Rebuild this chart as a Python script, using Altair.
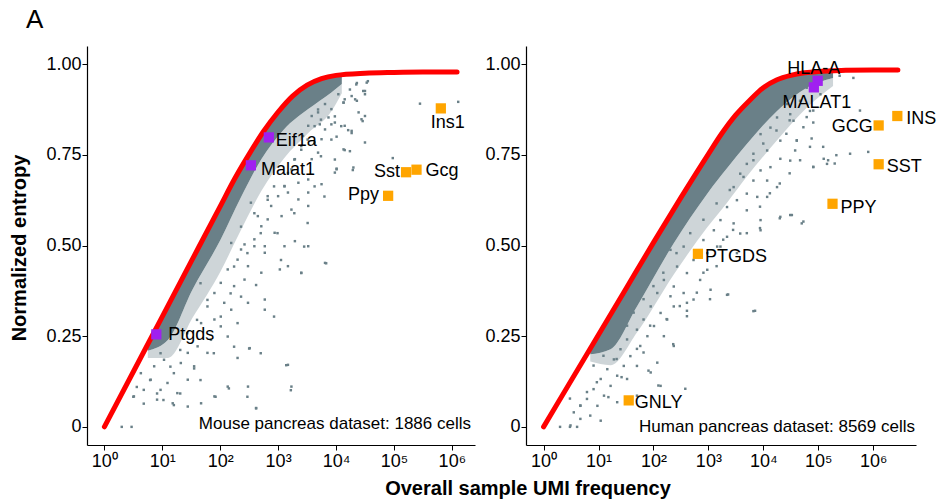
import altair as alt
import pandas as pd

FONT = "Liberation Sans"
GRAY = "#6a8088"
RED = "#ff0000"
ORANGE = "#ffa500"
PURPLE = "#a020f0"

# ---------------- Mouse (left) ----------------
m_curve_lx = [0, 0.5, 1, 1.5, 2, 2.25, 2.5, 2.75, 3.0, 3.25, 3.5, 3.75, 4.0, 4.5, 5.0, 5.5, 6.09]
m_curve_y = [0, 0.152, 0.304, 0.456, 0.608, 0.684, 0.752, 0.815, 0.868, 0.912, 0.942, 0.960, 0.969, 0.975, 0.977, 0.978, 0.978]

# dense (solid) part of the gene cloud: upper edge follows the curve
m_band_lx = [0.75, 1.1, 1.52, 2.01, 2.35, 2.71, 3.1, 3.52, 3.92, 4.1]
m_band_hi = [0.232, 0.338, 0.466, 0.615, 0.716, 0.810, 0.890, 0.947, 0.968, 0.972]
m_band_lo = [0.21, 0.24, 0.378, 0.517, 0.63, 0.738, 0.82, 0.876, 0.922, 0.945]
m_halo_lo = [0.19, 0.19, 0.30, 0.43, 0.54, 0.65, 0.74, 0.81, 0.87, 0.92]

# scattered genes (outer cloud)
m_pts_lx = [5.45, 6.11, 4.98, 4.01, 4.29, 4.15, 4.21, 4.01, 4.46, 4.50, 3.92, 4.36, 4.53, 4.47, 4.50, 4.33,
            4.15, 4.13, 4.55, 4.35, 4.24, 3.83, 3.45, 3.40, 3.14, 3.22, 2.62, 2.47, 2.50, 2.15, 1.92, 1.66,
            1.20, 0.30, 0.47, 0.50, 0.68, 0.56, 0.79, 0.91, 1.02, 1.31, 1.55, 1.89, 2.24, 2.70, 2.93, 2.62,
            2.36, 3.05, 2.99, 3.28, 3.51, 3.80, 3.98, 3.63, 3.74, 4.27, 4.09, 3.92, 3.98, 1.66, 1.78, 2.01,
            2.18, 2.24, 2.47, 2.70, 2.36, 2.59, 2.82, 2.93, 3.17, 3.11, 3.28, 3.40, 3.51, 3.63, 3.74, 3.69,
            1.43, 1.60, 1.31, 1.14, 0.97, 1.08]
m_pts_y = [0.891, 0.896, 0.741, 0.712, 0.708, 0.763, 0.818, 0.800, 0.843, 0.857, 0.834, 0.948, 0.949, 0.926, 0.917, 0.903,
           0.903, 0.894, 0.953, 0.944, 0.930, 0.451, 0.497, 0.424, 0.170, 0.101, 0.051, 0.083, 0.216, 0.106, 0.083, 0.129,
           0.060, 0.0, 0.0, 0.083, 0.064, 0.110, 0.129, 0.092, 0.074, 0.092, 0.161, 0.203, 0.221, 0.203, 0.304, 0.391,
           0.359, 0.460, 0.534, 0.589, 0.562, 0.635, 0.737, 0.663, 0.746, 0.810, 0.829, 0.792, 0.856, 0.396, 0.350, 0.304,
           0.368, 0.442, 0.479, 0.534, 0.552, 0.589, 0.626, 0.663, 0.700, 0.663, 0.737, 0.764, 0.792, 0.829, 0.847, 0.875,
           0.258, 0.295, 0.212, 0.166, 0.203, 0.258]
m_pts2_lx = [4.50, 4.27, 4.36, 4.13, 4.04, 3.92, 3.81, 3.69, 3.58, 3.52, 3.81, 3.98, 4.15, 4.27, 4.44, 4.24,
             4.50, 4.30, 4.01, 3.69, 3.58, 3.75, 3.40, 3.29, 3.23, 3.35, 3.52, 3.11, 3.00, 2.88, 3.06, 3.23,
             3.35, 3.52, 2.82, 2.71, 2.94, 2.59, 2.42, 3.29, 3.11, 2.77, 2.65, 2.53, 2.82, 3.17, 3.52, 3.75,
             3.98, 4.13, 3.72, 3.43, 3.63, 3.87, 4.39]
m_pts2_y = [0.926, 0.912, 0.899, 0.894, 0.917, 0.876, 0.890, 0.867, 0.857, 0.830, 0.820, 0.839, 0.830, 0.816, 0.848, 0.760,
            0.784, 0.715, 0.710, 0.756, 0.738, 0.793, 0.774, 0.738, 0.710, 0.673, 0.682, 0.664, 0.636, 0.609, 0.581, 0.599,
            0.627, 0.609, 0.572, 0.553, 0.535, 0.517, 0.503, 0.512, 0.498, 0.498, 0.581, 0.618, 0.636, 0.646, 0.646, 0.669,
            0.701, 0.765, 0.834, 0.802, 0.784, 0.853, 0.867]
m_pts3_lx = [2.19, 2.36, 2.59, 2.77, 2.30, 2.13, 2.48, 2.71, 2.42, 2.24, 2.01, 1.90, 2.07, 1.78, 2.19, 2.48,
             2.77, 1.90, 1.67, 2.01, 2.30, 2.13, 1.84, 1.61, 1.78, 1.44, 1.32, 1.55, 1.20, 1.44, 1.09, 0.97,
             1.26, 0.91, 0.80, 0.86, 1.03, 0.63, 0.68, 0.51, 2.51, 2.30, 2.13, 1.90, 1.67, 1.44, 1.18, 2.77,
             3.17, 3.40, 3.81, 3.17, 3.03, 3.52, 3.23, 2.62, 2.48]
m_pts3_y = [0.507, 0.489, 0.498, 0.480, 0.461, 0.434, 0.443, 0.425, 0.406, 0.388, 0.397, 0.369, 0.342, 0.332, 0.323, 0.342,
            0.323, 0.296, 0.286, 0.277, 0.286, 0.249, 0.240, 0.222, 0.204, 0.204, 0.176, 0.167, 0.148, 0.130, 0.121, 0.102,
            0.093, 0.075, 0.130, 0.167, 0.185, 0.148, 0.102, 0.084, 0.217, 0.190, 0.111, 0.084, 0.065, 0.056, 0.065, 0.351,
            0.171, 0.425, 0.452, 0.443, 0.434, 0.498, 0.111, 0.052, 0.111]

m_genes = ["Ptgds", "Malat1", "Eif1a", "Ins1", "Sst", "Gcg", "Ppy"]
m_gene_lx = [0.897, 2.53, 2.84, 5.81, 5.21, 5.39, 4.90]
m_gene_y = [0.255, 0.721, 0.798, 0.878, 0.702, 0.709, 0.637]
m_gene_kind = ["housekeeping", "housekeeping", "housekeeping", "marker", "marker", "marker", "marker"]

# ---------------- Human (right) ----------------
h_curve_lx = [0, 0.5, 1, 1.5, 2, 2.5, 3.0, 3.25, 3.5, 3.75, 4.0, 4.25, 4.5, 4.75, 5.0, 5.5, 6.0, 6.45]
h_curve_y = [0, 0.127, 0.254, 0.381, 0.508, 0.632, 0.752, 0.810, 0.860, 0.900, 0.935, 0.957, 0.969, 0.976, 0.980, 0.983, 0.984, 0.984]

h_band_lx = [0.85, 1.22, 1.70, 2.37, 2.98, 3.35, 3.70, 4.25, 4.79, 5.27]
h_band_hi = [0.220, 0.314, 0.436, 0.604, 0.752, 0.834, 0.896, 0.960, 0.979, 0.982]
h_band_lo = [0.20, 0.214, 0.332, 0.506, 0.643, 0.715, 0.78, 0.871, 0.935, 0.962]
h_halo_lo = [0.18, 0.17, 0.26, 0.42, 0.55, 0.62, 0.69, 0.79, 0.88, 0.94]

h_pts_lx = [5.64, 5.39, 5.76, 4.91, 4.88, 5.09, 5.18, 5.30, 5.58, 5.91, 5.33, 4.91, 4.52, 4.73, 4.30, 3.94,
            3.85, 3.36, 3.03, 2.61, 2.36, 1.91, 2.58, 2.09, 1.42, 1.18, 0.48, 0.30, 0.48, 0.61, 0.79, 0.67,
            0.97, 1.33, 1.70, 1.94, 2.24, 2.48, 2.79, 2.91, 3.15, 3.52, 3.70, 3.45, 3.27, 3.94, 4.12, 4.30,
            4.48, 4.67, 4.85, 4.61, 4.42, 4.73, 4.79, 4.48, 4.24, 4.00, 3.82, 3.64, 3.39, 3.15, 2.91, 2.67,
            2.42, 2.18, 2.00, 1.82, 1.64, 1.52, 1.27, 1.09, 0.91]
h_pts_y = [0.962, 0.968, 0.872, 0.872, 0.795, 0.772, 0.735, 0.726, 0.753, 0.758, 0.749, 0.717, 0.584, 0.566, 0.575, 0.548,
           0.320, 0.365, 0.352, 0.320, 0.228, 0.155, 0.105, 0.114, 0.137, 0.082, 0.078, 0.0, 0.0, 0.0, 0.096, 0.059,
           0.123, 0.187, 0.215, 0.279, 0.297, 0.333, 0.370, 0.425, 0.443, 0.479, 0.534, 0.543, 0.516, 0.607, 0.644, 0.671,
           0.699, 0.735, 0.772, 0.790, 0.808, 0.826, 0.854, 0.845, 0.817, 0.781, 0.735, 0.689, 0.653, 0.616, 0.571, 0.534,
           0.479, 0.425, 0.388, 0.352, 0.315, 0.279, 0.233, 0.196, 0.169]
h_pts2_lx = [4.79, 5.04, 4.67, 4.43, 4.25, 4.55, 4.91, 4.13, 3.95, 4.31, 4.61, 4.07, 4.31, 4.49, 3.82, 3.70,
             3.95, 4.13, 3.58, 3.82, 4.07, 4.25, 3.46, 3.70, 3.89, 3.52, 3.34, 3.70, 4.07, 3.22, 3.46, 3.10,
             3.34, 3.58, 2.91, 3.16, 3.95, 3.95, 4.31, 4.49, 4.70, 5.10, 5.16, 4.91, 4.58, 4.49, 4.85]
h_pts2_y = [0.935, 0.917, 0.899, 0.890, 0.853, 0.844, 0.839, 0.825, 0.807, 0.789, 0.789, 0.762, 0.739, 0.734, 0.753, 0.725,
            0.707, 0.716, 0.698, 0.679, 0.679, 0.661, 0.661, 0.643, 0.634, 0.625, 0.606, 0.597, 0.634, 0.570, 0.561, 0.542,
            0.524, 0.533, 0.515, 0.497, 0.542, 0.570, 0.579, 0.584, 0.561, 0.739, 0.725, 0.716, 0.762, 0.862, 0.871]
h_pts3_lx = [2.31, 2.55, 2.73, 2.98, 3.22, 2.43, 2.61, 2.85, 2.98, 2.19, 2.37, 2.07, 2.31, 2.55, 2.73, 3.04,
             3.34, 1.95, 2.13, 2.37, 2.61, 1.82, 2.01, 2.25, 1.70, 1.89, 2.19, 1.52, 1.76, 1.40, 1.58, 1.82,
             1.28, 1.46, 1.70, 1.16, 1.34, 1.04, 1.22, 0.91, 1.10, 0.79, 0.98, 0.67, 0.55, 0.85, 1.52, 1.95,
             2.13, 2.37, 2.61, 3.82, 2.07, 1.70, 1.34, 1.04, 0.67, 0.49]
h_pts3_y = [0.488, 0.497, 0.460, 0.479, 0.497, 0.442, 0.424, 0.405, 0.433, 0.405, 0.387, 0.369, 0.360, 0.369, 0.351, 0.378,
            0.364, 0.332, 0.314, 0.332, 0.342, 0.296, 0.278, 0.296, 0.268, 0.250, 0.250, 0.241, 0.223, 0.214, 0.195, 0.205,
            0.186, 0.168, 0.168, 0.159, 0.141, 0.132, 0.113, 0.104, 0.086, 0.077, 0.058, 0.058, 0.040, 0.031, 0.132, 0.150,
            0.113, 0.223, 0.305, 0.319, 0.177, 0.086, 0.068, 0.017, 0.022, 0.004]

h_genes = ["HLA-A", "MALAT1", "INS", "GCG", "SST", "PPY", "PTGDS", "GNLY"]
h_gene_lx = [4.99, 4.92, 6.44, 6.10, 6.10, 5.26, 2.81, 1.55]
h_gene_y = [0.954, 0.936, 0.857, 0.831, 0.724, 0.615, 0.477, 0.073]
h_gene_kind = ["housekeeping", "housekeeping", "marker", "marker", "marker", "marker", "marker", "marker"]

x_ticks = [0, 1, 2, 3, 4, 5, 6]
y_ticks = [0, 0.25, 0.5, 0.75, 1.0]

# label placement (align, dx, dy) - styling only
LABEL_STYLE = {
    "Ptgds": ("left", 12, 1), "Malat1": ("left", 10, 5), "Eif1a": ("left", 7, 4),
    "Ins1": ("center", 7, 15), "Sst": ("right", -6, 0), "Gcg": ("left", 9, 1), "Ppy": ("right", -9, -1),
    "HLA-A": ("center", -4, -12), "MALAT1": ("center", 3, 16), "INS": ("left", 9, 3), "GCG": ("right", -6, 2),
    "SST": ("left", 8, 3), "PPY": ("left", 8, 4), "PTGDS": ("left", 7, 3), "GNLY": ("left", 6, 3),
}

W_L, W_R, H = 388, 390, 399


def frame_rule(xpos):
    # invisible white rule fixing the outer bounds of the figure
    return alt.Chart(pd.DataFrame({"k": [0]})).mark_rule(color="white", strokeWidth=1).encode(
        x=alt.value(xpos), y=alt.value(-45.5), y2=alt.value(457.5))


def panel(width, xdomain, curve_lx, curve_y, band_lx, band_hi, band_lo, halo_lo,
          pts_lx, pts_y, genes, gene_lx, gene_y, gene_kind, note, note_x, note_y, extra=None):
    xs = alt.Scale(domain=xdomain, nice=False, zero=False)
    ys = alt.Scale(domain=[-0.05, 1.05], nice=False, zero=False)
    xaxis = alt.Axis(values=x_ticks, title=None, grid=False,
                     labelExpr="'10' + ['\u2070','\u00b9','\u00b2','\u00b3','\u2074','\u2075','\u2076'][datum.value]",
                     labelFontSize=18, labelFont=FONT, labelColor="black", labelPadding=2,
                     tickSize=5, tickColor="black", domainColor="black", domainWidth=1.2)
    yaxis = alt.Axis(values=y_ticks, title=None, grid=False,
                     labelExpr="datum.value == 0 ? '0' : format(datum.value, '.2f')",
                     labelFontSize=18, labelFont=FONT, labelColor="black", labelPadding=1,
                     tickSize=5, tickColor="black", domainColor="black", domainWidth=1.2)

    halo = alt.Chart(pd.DataFrame({"lx": band_lx, "y": band_lo, "y2": halo_lo})).mark_area(
        color=GRAY, opacity=0.33, interpolate="monotone").encode(
        x=alt.X("lx:Q", scale=xs, axis=xaxis), y=alt.Y("y:Q", scale=ys, axis=yaxis), y2="y2:Q")
    band = alt.Chart(pd.DataFrame({"lx": band_lx, "y": band_hi, "y2": band_lo})).mark_area(
        color=GRAY, opacity=1, interpolate="monotone").encode(x="lx:Q", y="y:Q", y2="y2:Q")
    pts = alt.Chart(pd.DataFrame({"lx": pts_lx, "y": pts_y})).mark_square(
        size=6, color=GRAY, opacity=1).encode(x="lx:Q", y="y:Q")
    curve = alt.Chart(pd.DataFrame({"lx": curve_lx, "y": curve_y})).mark_line(
        color=RED, strokeWidth=5, strokeCap="round", interpolate="monotone").encode(x="lx:Q", y="y:Q")
    gdf = pd.DataFrame({"gene": genes, "lx": gene_lx, "y": gene_y, "kind": gene_kind})
    squares = alt.Chart(gdf).mark_square(size=105, opacity=1).encode(
        x="lx:Q", y="y:Q",
        color=alt.Color("kind:N", scale=alt.Scale(domain=["housekeeping", "marker"], range=[PURPLE, ORANGE]),
                        legend=None))
    layers = [halo, band, pts, curve, squares]
    for g in genes:
        al, dx, dy = LABEL_STYLE[g]
        layers.append(alt.Chart(gdf).transform_filter(alt.datum.gene == g).mark_text(
            align=al, baseline="middle", dx=dx, dy=dy, fontSize=18, font=FONT, color="black").encode(
            x="lx:Q", y="y:Q", text="gene:N"))
    layers.append(alt.Chart(pd.DataFrame({"t": [note]})).mark_text(
        align="right", baseline="alphabetic", fontSize=17, font=FONT, color="black").encode(
        x=alt.value(note_x), y=alt.value(note_y), text="t:N"))
    if extra:
        layers += extra
    return alt.layer(*layers).properties(width=width, height=H)


left_extra = [
    alt.Chart(pd.DataFrame({"t": ["A"]})).mark_text(
        align="left", baseline="alphabetic", fontSize=26, font=FONT, color="black").encode(
        x=alt.value(-61), y=alt.value(-18), text="t:N"),
    alt.Chart(pd.DataFrame({"t": ["Normalized entropy"]})).mark_text(
        align="center", baseline="middle", angle=270, fontSize=20, fontWeight="bold", font=FONT,
        color="black").encode(x=alt.value(-67), y=alt.value(202), text="t:N"),
    frame_rule(-86.5),
]
right_extra = [
    alt.Chart(pd.DataFrame({"t": ["Overall sample UMI frequency"]})).mark_text(
        align="center", baseline="alphabetic", fontSize=20, fontWeight="bold", font=FONT,
        color="black").encode(x=alt.value(2), y=alt.value(449), text="t:N"),
    frame_rule(412.5),
]

left = panel(W_L, [-0.3, 6.4], m_curve_lx, m_curve_y, m_band_lx, m_band_hi, m_band_lo, m_halo_lo,
             m_pts_lx + m_pts2_lx + m_pts3_lx, m_pts_y + m_pts2_y + m_pts3_y,
             m_genes, m_gene_lx, m_gene_y, m_gene_kind,
             "Mouse pancreas dataset: 1886 cells", 384, 383, left_extra)
right = panel(W_R, [-0.32, 6.78], h_curve_lx, h_curve_y, h_band_lx, h_band_hi, h_band_lo, h_halo_lo,
              h_pts_lx + h_pts2_lx + h_pts3_lx, h_pts_y + h_pts2_y + h_pts3_y,
              h_genes, h_gene_lx, h_gene_y, h_gene_kind,
              "Human pancreas dataset: 8569 cells", 389, 386, right_extra)

chart = alt.hconcat(left, right, spacing=51, bounds="flush").resolve_scale(
    x="independent", y="independent", color="shared").properties(
    padding=0,
    background="white",
).configure_view(stroke=None)

chart.save("out.html", embed_options={"renderer": "svg", "actions": False})
